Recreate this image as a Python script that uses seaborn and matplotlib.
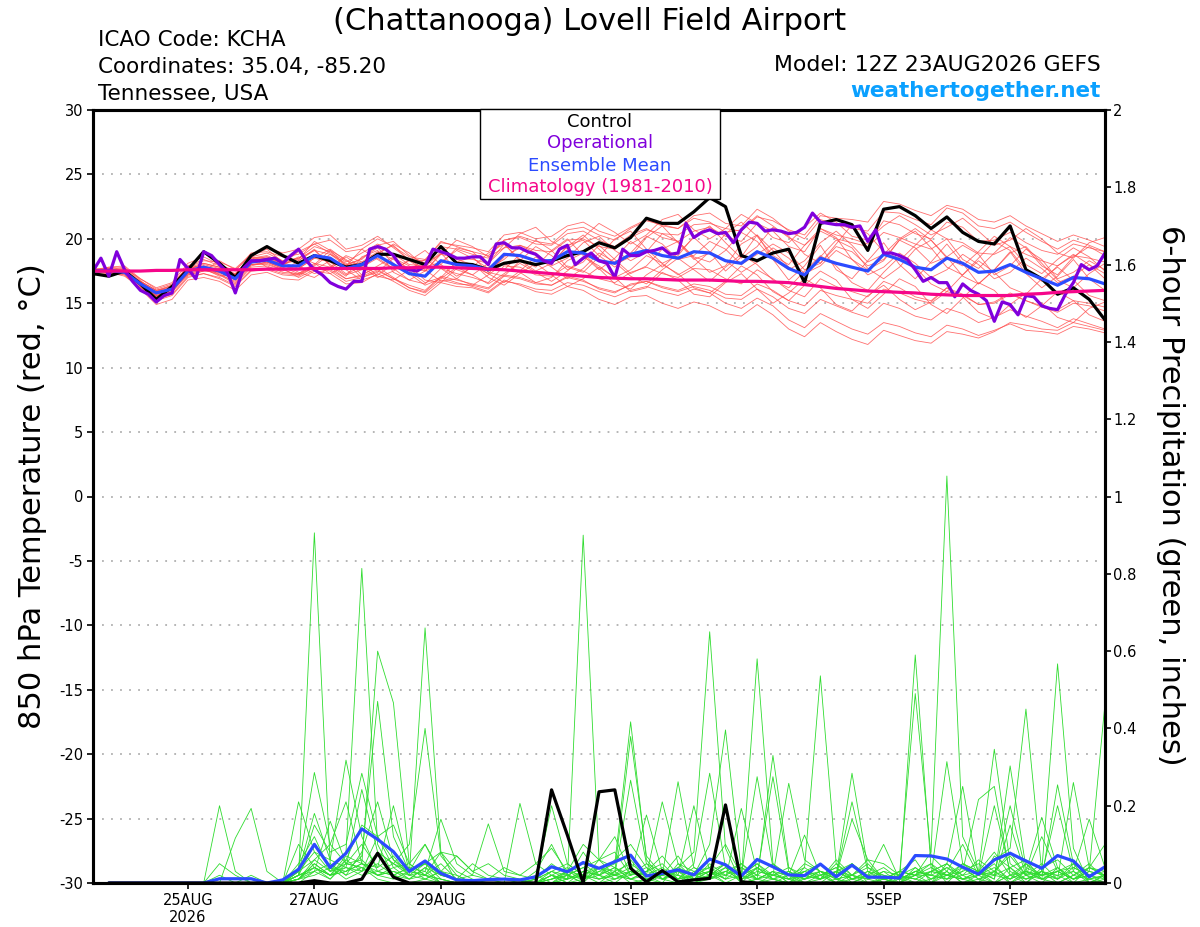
import pandas as pd
import matplotlib
matplotlib.use("Agg")
import matplotlib.pyplot as plt
import seaborn as sns
from matplotlib.patches import Rectangle

# forecast times: GEFS 12Z 23AUG2026, 6-hourly out to 384h (operational 3-hourly)
times = pd.date_range("2026-08-23 12:00", periods=65, freq="6h")
times_3h = pd.date_range("2026-08-23 12:00", periods=129, freq="3h")
precip_times = times[1:]

# 850 hPa temperature (C)
control_temp = [17.3, 17.1, 17.5, 16.5, 15.3, 16.3, 17.6, 19.0, 18.1, 17.0, 18.7, 19.4, 18.7,
                18.1, 18.7, 18.3, 17.8, 18.0, 18.8, 18.8, 18.4, 18.0, 19.4, 18.1, 18.0, 17.6,
                18.1, 18.3, 18.0, 18.3, 18.7, 19.0, 19.7, 19.3, 20.1, 21.6, 21.2, 21.2, 22.1,
                23.2, 22.5, 18.7, 18.3, 18.9, 19.2, 16.6, 21.2, 21.5, 21.1, 19.1, 22.3, 22.5,
                21.8, 20.8, 21.7, 20.5, 19.8, 19.6, 21.0, 17.6, 16.9, 15.7, 16.2, 15.3, 13.7]

mean_temp = [17.5, 17.55, 17.4, 16.5, 15.8, 16.1, 17.5, 17.8, 17.5, 16.9, 18.2, 18.35, 17.9,
             17.9, 18.7, 18.5, 17.7, 18.0, 18.7, 18.0, 17.3, 17.1, 18.3, 18.0, 17.9, 17.6,
             18.8, 18.7, 18.3, 18.3, 19.0, 18.9, 18.3, 18.1, 18.8, 19.1, 18.7, 18.5, 19.0,
             18.9, 18.3, 18.1, 19.0, 18.5, 17.7, 17.2, 18.5, 18.1, 17.8, 17.5, 18.8, 18.4,
             17.8, 17.6, 18.5, 18.1, 17.4, 17.5, 18.0, 17.4, 16.9, 16.4, 17.0, 16.9, 16.5]

oper_temp = [17.5, 18.5, 17.1, 19.0, 17.6, 16.7, 16.0, 15.7, 15.1, 15.6,
             15.8, 18.4, 17.7, 16.9, 19.0, 18.7, 18.0, 17.4, 15.8, 17.7,
             18.3, 18.3, 18.4, 18.5, 18.1, 18.7, 19.2, 18.3, 17.6, 17.2,
             16.6, 16.3, 16.1, 16.7, 16.7, 19.2, 19.4, 19.2, 18.7, 17.8,
             17.6, 17.5, 17.9, 19.2, 19.0, 18.8, 18.5, 18.5, 18.6, 18.6,
             18.0, 19.6, 19.7, 19.3, 19.3, 19.0, 18.8, 18.3, 18.1, 19.2,
             19.5, 18.0, 18.5, 18.9, 18.3, 18.1, 17.0, 19.2, 18.7, 18.7,
             19.0, 19.1, 19.3, 18.8, 18.9, 21.2, 20.1, 20.5, 20.7, 20.4,
             20.5, 19.7, 20.7, 21.3, 21.2, 20.6, 20.7, 20.6, 20.4, 20.5,
             20.9, 22.0, 21.3, 21.2, 21.1, 21.1, 20.9, 21.0, 19.8, 20.7,
             18.9, 18.9, 18.7, 18.4, 17.6, 16.7, 17.0, 16.6, 16.6, 15.5,
             16.5, 16.0, 15.7, 15.2, 13.6, 15.1, 14.9, 14.1, 15.6, 15.5,
             14.8, 14.6, 14.5, 15.7, 16.6, 18.0, 17.6, 17.9, 18.9]

clim_temp = [17.5, 17.5, 17.5, 17.5, 17.55, 17.55, 17.6, 17.6, 17.6, 17.6, 17.6, 17.65, 17.65,
             17.65, 17.7, 17.7, 17.7, 17.7, 17.7, 17.75, 17.75, 17.8, 17.8, 17.75, 17.7, 17.65,
             17.6, 17.5, 17.4, 17.3, 17.2, 17.1, 17.0, 16.95, 16.9, 16.9, 16.85, 16.8, 16.8,
             16.8, 16.75, 16.7, 16.7, 16.65, 16.6, 16.45, 16.3, 16.15, 16.05, 15.95, 15.9, 15.85,
             15.8, 15.7, 15.65, 15.6, 15.6, 15.6, 15.6, 15.7, 15.75, 15.85, 15.9, 15.95, 16.0]

red_members = [
    [17.3, 17.6, 17.8, 16.8, 15.5, 16.3, 17.9, 18.4, 17.9, 17.2, 18.6, 18.9, 18.3,
     18.5, 19.4, 19.0, 18.2, 18.9, 19.6, 18.8, 18.0, 17.9, 19.4, 19.2, 18.8, 18.5,
     19.9, 20.1, 19.6, 19.5, 20.4, 20.6, 19.9, 19.4, 20.3, 20.8, 20.1, 19.8, 20.6,
     20.9, 20.2, 19.8, 21.2, 20.6, 19.4, 19.0, 20.8, 20.3, 20.0, 19.6, 21.4, 21.1,
     20.4, 20.0, 21.3, 20.9, 19.8, 19.9, 20.5, 19.7, 19.1, 18.8, 19.6, 19.3, 19.0],
    [17.6, 17.4, 17.1, 16.2, 15.2, 15.6, 17.0, 17.3, 17.0, 16.4, 17.6, 17.7, 17.3,
     17.2, 17.8, 17.6, 16.9, 17.1, 17.6, 16.9, 16.4, 16.0, 17.1, 16.8, 16.5, 16.2,
     17.2, 17.0, 16.6, 16.4, 17.1, 16.8, 16.1, 15.8, 16.5, 16.7, 16.2, 15.9, 16.3,
     16.0, 15.4, 15.3, 16.1, 15.5, 14.6, 14.2, 15.3, 14.8, 14.3, 13.9, 15.0, 14.6,
     14.0, 13.7, 14.6, 14.2, 13.5, 13.9, 14.5, 14.0, 13.6, 13.1, 13.8, 13.4, 13.0],
    [17.4, 17.7, 17.6, 16.6, 15.9, 16.4, 17.2, 17.5, 18.3, 17.6, 18.7, 19.2, 18.2,
     18.4, 19.8, 19.1, 17.9, 18.5, 19.3, 18.1, 17.2, 17.8, 19.0, 18.4, 18.0, 17.3,
     18.6, 19.3, 18.8, 18.0, 19.5, 19.9, 18.7, 17.8, 18.9, 20.2, 19.6, 18.4, 18.7,
     19.8, 19.2, 18.0, 18.8, 19.6, 18.9, 17.6, 18.1, 19.4, 19.0, 17.9, 18.4, 19.9,
     19.3, 18.1, 18.6, 19.5, 18.8, 17.2, 17.9, 19.2, 18.4, 16.9, 17.4, 18.3, 17.6],
    [17.7, 17.3, 17.5, 16.4, 15.6, 15.8, 17.7, 17.9, 17.2, 16.7, 18.0, 18.1, 17.6,
     17.2, 18.0, 19.1, 18.4, 17.2, 17.9, 18.6, 17.5, 16.6, 17.0, 18.2, 18.6, 17.4,
     17.1, 18.3, 19.4, 18.7, 17.6, 18.2, 19.5, 18.4, 17.3, 17.9, 19.2, 19.8, 18.5,
     17.4, 17.9, 19.6, 20.3, 19.1, 17.8, 17.2, 18.6, 19.9, 19.3, 17.7, 16.9, 17.8,
     19.2, 19.9, 18.6, 17.1, 16.5, 17.6, 18.9, 19.4, 18.1, 16.8, 16.2, 17.3, 18.1],
    [17.5, 17.8, 17.7, 16.9, 16.2, 16.6, 18.1, 18.6, 18.0, 17.5, 18.9, 19.0, 18.6,
     18.8, 19.6, 19.9, 19.0, 19.2, 20.0, 19.4, 18.6, 18.4, 19.7, 19.5, 19.3, 19.0,
     20.3, 20.5, 20.0, 20.2, 21.0, 21.3, 20.6, 20.2, 20.9, 21.5, 21.0, 20.8, 21.6,
     21.3, 20.5, 20.7, 21.8, 21.0, 20.1, 19.5, 20.6, 20.0, 19.7, 19.4, 20.5, 20.1,
     19.6, 19.2, 20.0, 19.7, 18.9, 18.8, 19.4, 18.8, 18.3, 17.9, 18.7, 18.5, 18.2],
    [17.2, 17.3, 17.2, 16.1, 14.9, 15.3, 16.8, 17.0, 16.7, 16.0, 17.2, 17.4, 16.9,
     16.8, 17.5, 17.3, 16.5, 16.6, 17.3, 16.7, 16.0, 15.6, 16.6, 16.3, 16.2, 15.8,
     16.7, 16.5, 16.1, 16.0, 16.6, 16.4, 15.9, 15.5, 16.0, 16.3, 15.9, 15.6, 16.1,
     15.8, 15.0, 14.6, 15.4, 14.8, 13.7, 13.1, 14.2, 13.6, 13.0, 12.6, 13.5, 13.2,
     12.7, 12.4, 13.3, 13.0, 12.5, 12.9, 13.4, 12.9, 12.8, 12.6, 13.2, 13.0, 12.7],
    [17.6, 17.5, 17.3, 16.7, 16.0, 16.2, 17.4, 17.9, 17.6, 17.1, 18.4, 18.5, 18.0,
     18.6, 18.1, 17.3, 17.9, 19.2, 18.4, 17.6, 18.3, 19.1, 18.0, 17.1, 17.8, 18.9,
     19.6, 18.3, 17.5, 18.1, 19.4, 20.3, 19.2, 18.0, 18.6, 20.1, 21.0, 19.7, 18.4,
     18.9, 20.4, 21.3, 20.2, 18.7, 18.0, 19.5, 20.8, 20.1, 18.4, 17.6, 18.3, 19.9,
     20.6, 19.3, 17.8, 17.2, 18.5, 19.8, 19.1, 17.6, 16.7, 17.9, 18.8, 18.0, 16.9],
    [17.4, 17.5, 17.6, 16.3, 15.4, 15.9, 17.3, 17.6, 17.3, 16.6, 17.9, 18.2, 17.7,
     17.7, 18.5, 18.2, 17.3, 17.8, 18.5, 17.7, 16.8, 16.5, 17.7, 17.3, 17.0, 16.6,
     17.9, 17.8, 17.2, 17.1, 17.9, 17.5, 16.9, 16.6, 17.4, 17.8, 17.3, 17.0, 17.7,
     17.6, 16.9, 16.5, 17.6, 16.9, 16.0, 15.5, 16.9, 16.3, 15.9, 15.5, 16.7, 16.2,
     15.5, 15.2, 16.2, 15.7, 14.9, 15.1, 15.8, 15.2, 14.7, 14.3, 15.0, 14.8, 14.4],
    [17.5, 17.7, 17.5, 16.5, 15.7, 16.0, 17.6, 18.1, 17.8, 17.0, 18.5, 18.6, 18.1,
     17.4, 17.0, 17.8, 18.7, 18.2, 17.1, 16.8, 17.6, 18.4, 17.7, 16.9, 16.4, 17.2,
     18.1, 17.4, 16.6, 17.0, 18.3, 18.9, 17.7, 16.5, 16.1, 17.2, 18.0, 17.3, 16.2,
     15.8, 16.7, 17.9, 17.2, 15.9, 15.2, 16.4, 17.5, 16.8, 15.3, 14.6, 15.7, 16.9,
     16.3, 14.9, 14.2, 15.4, 16.6, 16.0, 14.7, 13.9, 14.8, 15.9, 15.2, 14.1, 13.6],
    [17.3, 17.4, 17.3, 16.4, 15.6, 16.0, 17.3, 17.6, 17.2, 16.5, 17.8, 17.9, 17.4,
     17.3, 18.1, 17.8, 16.9, 17.2, 17.8, 17.0, 16.2, 15.9, 17.0, 16.6, 16.3, 15.9,
     16.8, 16.4, 15.9, 15.7, 16.3, 16.0, 15.3, 14.9, 15.5, 15.6, 15.0, 14.6, 15.1,
     14.8, 14.2, 14.0, 14.9, 14.1, 13.0, 12.4, 13.5, 12.8, 12.2, 11.8, 12.9, 12.5,
     12.1, 11.9, 12.8, 12.6, 12.3, 12.8, 13.5, 13.3, 13.0, 12.9, 13.5, 13.2, 12.9],
    [17.6, 17.8, 17.9, 16.9, 16.1, 16.5, 17.8, 18.3, 18.2, 17.7, 18.8, 19.3, 18.9,
     19.2, 20.1, 20.3, 19.2, 19.5, 20.2, 19.3, 18.4, 18.3, 19.8, 19.4, 19.0, 18.7,
     19.9, 20.2, 19.8, 19.6, 20.7, 20.9, 20.3, 19.9, 20.8, 21.4, 21.1, 20.8, 21.8,
     22.0, 21.2, 21.0, 22.3, 21.6, 20.6, 20.0, 21.5, 21.1, 20.8, 20.6, 22.1, 22.0,
     21.5, 21.1, 22.4, 22.0, 21.0, 20.8, 21.3, 20.5, 19.8, 19.2, 19.9, 19.5, 19.0],
    [17.4, 17.5, 17.2, 16.2, 15.5, 15.9, 17.2, 17.5, 17.4, 16.8, 18.1, 18.4, 18.0,
     18.5, 19.1, 18.0, 17.2, 17.6, 18.9, 19.5, 18.3, 17.5, 18.0, 19.3, 19.0, 17.9,
     17.6, 18.8, 19.9, 19.1, 17.8, 17.4, 18.6, 20.0, 20.6, 19.2, 18.1, 18.7, 20.2,
     21.0, 19.7, 18.5, 19.4, 20.9, 20.2, 18.8, 18.1, 19.6, 21.1, 20.4, 19.0, 18.3,
     19.5, 20.7, 20.0, 18.4, 17.7, 18.9, 20.1, 19.3, 17.9, 17.2, 18.6, 19.4, 18.7],
    [17.7, 17.6, 17.4, 16.0, 15.3, 16.4, 17.9, 17.7, 17.1, 17.3, 18.6, 17.8, 17.5,
     18.3, 19.2, 17.9, 17.1, 18.6, 19.1, 17.4, 16.8, 17.5, 18.9, 17.6, 17.2, 18.1,
     19.6, 18.4, 17.8, 19.1, 20.0, 18.7, 17.6, 18.5, 19.8, 19.0, 17.8, 18.9, 20.1,
     19.0, 17.5, 18.6, 20.3, 18.4, 16.8, 17.9, 19.5, 17.6, 16.9, 18.3, 19.7, 18.0,
     16.9, 18.2, 19.6, 18.1, 16.5, 17.6, 19.0, 17.3, 16.2, 17.1, 18.4, 16.9, 16.0],
    [17.5, 17.4, 17.6, 16.6, 15.9, 16.2, 17.6, 17.7, 17.4, 17.0, 18.3, 18.2, 17.8,
     17.3, 17.9, 18.8, 18.1, 17.0, 17.4, 18.5, 17.9, 16.8, 16.6, 17.7, 18.1, 17.0,
     16.4, 17.3, 18.1, 17.2, 16.3, 16.9, 17.8, 17.0, 15.9, 16.2, 17.4, 16.8, 15.7,
     15.5, 16.6, 17.3, 16.1, 15.0, 15.8, 16.9, 16.2, 14.9, 14.4, 15.6, 16.4, 15.3,
     14.5, 15.1, 16.2, 15.5, 14.3, 13.8, 14.9, 15.8, 15.0, 13.9, 13.5, 14.6, 15.1],
    [17.3, 17.5, 17.3, 16.3, 15.3, 15.7, 17.1, 17.3, 16.9, 16.3, 17.5, 17.6, 17.2,
     17.1, 17.8, 17.5, 16.7, 17.0, 17.5, 16.9, 16.2, 15.8, 16.8, 16.5, 16.4, 16.1,
     17.1, 16.9, 16.5, 16.4, 17.0, 16.7, 16.2, 15.9, 16.4, 16.7, 16.3, 16.0, 16.5,
     16.3, 15.7, 15.6, 16.5, 16.0, 15.2, 14.8, 16.0, 15.6, 15.3, 15.0, 16.1, 15.8,
     15.3, 15.0, 15.9, 15.6, 14.9, 15.0, 15.7, 15.2, 14.8, 14.5, 15.2, 15.0, 14.7],
    [17.6, 17.7, 17.5, 16.7, 16.0, 16.3, 17.7, 18.0, 17.7, 17.2, 18.3, 18.5, 18.1,
     19.0, 19.6, 18.9, 18.0, 18.4, 19.5, 19.8, 18.7, 18.1, 18.8, 19.9, 19.4, 18.6,
     19.3, 20.4, 20.9, 19.8, 19.2, 20.1, 21.2, 20.5, 19.6, 20.3, 21.5, 21.9, 20.7,
     20.0, 20.8, 21.9, 21.2, 20.1, 19.7, 20.9, 22.0, 21.3, 20.2, 19.9, 21.0, 21.8,
     21.1, 20.3, 20.9, 21.6, 20.6, 19.5, 19.9, 20.8, 20.0, 18.9, 18.5, 19.7, 20.1],
    [17.4, 17.6, 17.4, 16.5, 15.6, 15.9, 17.4, 17.7, 17.5, 16.9, 18.0, 18.0, 17.6,
     17.9, 17.3, 17.7, 18.6, 17.8, 17.0, 17.5, 18.4, 17.6, 16.7, 16.9, 17.9, 17.3,
     16.6, 17.5, 18.6, 17.8, 16.9, 17.7, 18.9, 18.2, 17.1, 16.5, 17.6, 18.5, 17.6,
     16.7, 17.8, 18.8, 18.0, 16.8, 16.2, 17.5, 18.7, 17.9, 16.6, 16.0, 17.4, 18.6,
     17.8, 16.5, 15.9, 17.2, 18.3, 17.4, 16.2, 15.7, 16.9, 17.8, 16.8, 15.6, 15.2],
    [17.5, 17.6, 17.5, 16.6, 15.8, 16.2, 17.5, 17.8, 17.6, 17.1, 18.4, 18.6, 18.1,
     18.3, 19.1, 18.8, 17.9, 18.2, 19.0, 18.4, 17.7, 17.5, 18.8, 18.5, 18.4, 18.1,
     19.3, 19.5, 19.1, 19.0, 19.9, 20.0, 19.4, 19.2, 20.1, 20.7, 20.4, 20.3, 21.1,
     21.2, 20.8, 20.6, 21.7, 21.4, 20.7, 20.3, 21.8, 21.6, 21.5, 21.3, 22.9, 22.7,
     22.2, 21.8, 22.6, 22.3, 21.5, 21.3, 21.8, 21.0, 20.4, 19.8, 20.3, 19.9, 19.4],
    [17.2, 17.3, 17.4, 16.4, 15.7, 16.1, 17.4, 17.8, 17.4, 16.8, 18.0, 18.2, 17.7,
     17.0, 17.6, 18.3, 17.6, 16.8, 17.2, 18.0, 17.3, 16.4, 16.9, 17.8, 17.2, 16.5,
     17.3, 18.1, 17.4, 16.7, 17.5, 18.6, 17.9, 17.0, 17.6, 18.7, 18.1, 17.2, 17.9,
     19.0, 18.3, 17.4, 18.2, 19.3, 18.5, 17.3, 17.9, 19.1, 18.4, 17.2, 17.8, 18.9,
     18.1, 17.0, 17.6, 18.8, 18.0, 16.9, 17.4, 18.5, 17.7, 16.6, 17.1, 18.0, 17.3],
    [17.6, 17.5, 17.7, 16.7, 16.0, 16.4, 17.8, 18.1, 17.8, 17.3, 18.5, 18.7, 18.2,
     17.7, 18.5, 19.2, 18.3, 17.9, 18.8, 19.6, 18.9, 17.8, 18.2, 19.1, 18.5, 17.7,
     18.4, 19.5, 18.9, 17.9, 18.5, 19.7, 20.2, 19.1, 18.3, 19.0, 20.4, 19.8, 18.6,
     18.2, 19.1, 20.5, 19.8, 18.4, 17.6, 18.3, 19.7, 20.6, 19.5, 18.2, 18.8, 20.0,
     20.8, 19.9, 18.5, 17.9, 19.0, 20.2, 19.4, 18.0, 17.3, 18.4, 19.3, 18.6, 17.5],
]

# 6-hour precipitation (inches), valid at hours 6..384
control_precip = [0, 0, 0, 0, 0, 0, 0, 0, 0, 0, 0, 0, 0, 0.006, 0, 0,
                  0.01, 0.077, 0.015, 0, 0, 0, 0, 0, 0, 0, 0, 0, 0.241, 0.124, 0, 0.236,
                  0.241, 0.038, 0.003, 0.032, 0.003, 0.008, 0.012, 0.202, 0.003, 0, 0, 0, 0, 0, 0, 0,
                  0, 0, 0, 0, 0, 0, 0, 0, 0, 0, 0, 0, 0, 0, 0, 0]

mean_precip = [0, 0, 0, 0, 0, 0, 0, 0.011, 0.011, 0.011, 0.0, 0.008, 0.035, 0.10, 0.04, 0.077,
               0.14, 0.113, 0.081, 0.03, 0.057, 0.025, 0.008, 0.006, 0.009, 0.01, 0.008, 0.016, 0.042, 0.029, 0.053, 0.038,
               0.055, 0.072, 0.018, 0.025, 0.034, 0.021, 0.062, 0.047, 0.018, 0.061, 0.042, 0.021, 0.019, 0.049, 0.016, 0.046,
               0.015, 0.015, 0.013, 0.071, 0.07, 0.062, 0.041, 0.023, 0.06, 0.077, 0.057, 0.038, 0.071, 0.057, 0.016, 0.042]

green_members = [
    [0, 0, 0, 0, 0, 0, 0, 0, 0, 0, 0, 0, 0.02, 0.906, 0.05, 0.02,
     0.04, 0.01, 0, 0, 0, 0, 0, 0, 0, 0, 0, 0.01, 0.03, 0.01, 0.08, 0.02,
     0, 0.03, 0.01, 0, 0, 0, 0.02, 0.05, 0, 0.01, 0.03, 0, 0.01, 0.02, 0.04, 0,
     0, 0.01, 0, 0.02, 0.08, 1.053, 0.12, 0.03, 0, 0.02, 0.05, 0.01, 0, 0.02, 0.04, 0.1],
    [0, 0, 0, 0, 0, 0, 0, 0.02, 0, 0, 0, 0, 0.05, 0.12, 0.03, 0.08,
     0.814, 0.1, 0.02, 0, 0.01, 0, 0, 0, 0, 0, 0, 0, 0.02, 0, 0.01, 0.03,
     0.05, 0.417, 0.06, 0.01, 0.03, 0, 0.02, 0, 0, 0.04, 0.01, 0, 0, 0.02, 0, 0.05,
     0, 0.01, 0.03, 0.06, 0, 0.02, 0.01, 0, 0.07, 0.04, 0, 0.03, 0.567, 0.09, 0, 0.02],
    [0, 0, 0, 0, 0, 0, 0, 0, 0, 0, 0, 0, 0.01, 0.04, 0.02, 0.07,
     0.05, 0.60, 0.466, 0.05, 0.02, 0, 0, 0, 0, 0, 0, 0, 0.01, 0.02, 0, 0,
     0.03, 0, 0.01, 0.02, 0.04, 0.08, 0.65, 0.09, 0, 0.01, 0, 0.02, 0, 0, 0.03, 0.01,
     0, 0, 0.02, 0.01, 0, 0.05, 0.02, 0, 0.03, 0.08, 0.02, 0, 0.04, 0.01, 0.03, 0.465],
    [0, 0, 0, 0, 0, 0, 0, 0, 0, 0, 0, 0, 0, 0.03, 0.01, 0.05,
     0.1, 0.04, 0.07, 0.02, 0.66, 0.08, 0, 0, 0, 0, 0, 0.02, 0, 0.01, 0.90, 0.06,
     0.02, 0.01, 0, 0.03, 0, 0.02, 0.01, 0.04, 0, 0, 0.02, 0.01, 0, 0, 0.01, 0,
     0.02, 0, 0, 0.04, 0.01, 0.03, 0, 0.02, 0.05, 0, 0.03, 0.17, 0.04, 0, 0.01, 0.02],
    [0, 0, 0, 0, 0, 0, 0, 0, 0, 0, 0, 0, 0.02, 0.1, 0.04, 0.03,
     0.07, 0.47, 0.12, 0.03, 0.05, 0.01, 0, 0, 0, 0, 0, 0, 0.03, 0.05, 0.02, 0,
     0.01, 0.02, 0.05, 0.01, 0, 0.03, 0.04, 0.1, 0.02, 0, 0.01, 0, 0.03, 0.05, 0.01, 0.02,
     0, 0, 0.01, 0.02, 0, 0.03, 0.1, 0.02, 0, 0.04, 0.06, 0.01, 0.03, 0.05, 0, 0.01],
    [0, 0, 0, 0, 0, 0, 0, 0, 0, 0, 0, 0, 0.01, 0.05, 0.02, 0.04,
     0.03, 0.08, 0.05, 0.1, 0.40, 0.07, 0.02, 0, 0, 0, 0, 0, 0, 0.02, 0.04, 0.01,
     0.02, 0.06, 0.01, 0.03, 0.02, 0.01, 0.05, 0.02, 0.01, 0.58, 0.05, 0.02, 0.124, 0.02, 0, 0.01,
     0.03, 0, 0.02, 0, 0.01, 0.04, 0.02, 0.06, 0.03, 0, 0.02, 0.05, 0.01, 0.03, 0, 0.02],
    [0, 0, 0, 0, 0, 0, 0, 0, 0, 0, 0, 0, 0.03, 0.08, 0.06, 0.318,
     0.12, 0.03, 0.02, 0.01, 0.04, 0, 0, 0, 0, 0, 0, 0, 0, 0.03, 0.01, 0.06,
     0.04, 0.01, 0.03, 0.07, 0.02, 0, 0.01, 0.03, 0.05, 0.02, 0.01, 0, 0.04, 0.536, 0.05, 0.01,
     0.02, 0.01, 0, 0.03, 0.05, 0, 0.04, 0.01, 0.03, 0.07, 0.02, 0.12, 0.03, 0.01, 0.02, 0.04],
    [0, 0, 0, 0, 0, 0, 0, 0, 0, 0, 0, 0, 0.04, 0.286, 0.1, 0.05,
     0.06, 0.02, 0.04, 0.01, 0.02, 0.01, 0, 0, 0, 0, 0, 0.01, 0.05, 0.02, 0, 0.04,
     0.01, 0.03, 0.02, 0, 0.05, 0.01, 0.03, 0, 0.02, 0.04, 0.01, 0.03, 0, 0.01, 0.02, 0.05,
     0.01, 0.03, 0, 0.59, 0.04, 0.02, 0.01, 0.03, 0.08, 0.02, 0, 0.04, 0.06, 0.02, 0.01, 0],
    [0, 0, 0, 0, 0, 0, 0, 0, 0, 0, 0, 0, 0.02, 0.15, 0.08, 0.1,
     0.284, 0.12, 0.06, 0.02, 0.03, 0, 0, 0, 0, 0, 0, 0, 0.02, 0, 0.03, 0.02,
     0.06, 0.1, 0.04, 0.01, 0.03, 0.02, 0.1, 0.396, 0.03, 0.01, 0.02, 0.04, 0.01, 0.03, 0, 0.02,
     0.01, 0, 0.02, 0.49, 0.07, 0.03, 0, 0.01, 0.02, 0.04, 0.01, 0.03, 0, 0.02, 0.05, 0.01],
    [0, 0, 0, 0, 0, 0, 0, 0.05, 0.02, 0, 0, 0, 0.01, 0.06, 0.03, 0.04,
     0.242, 0.08, 0.05, 0.03, 0.1, 0.02, 0.01, 0, 0, 0, 0, 0, 0.01, 0.03, 0.02, 0.01,
     0.02, 0.04, 0, 0.02, 0.07, 0.01, 0.03, 0.02, 0.05, 0.01, 0.03, 0, 0.02, 0.01, 0.06, 0.02,
     0.06, 0.01, 0, 0.02, 0.03, 0.05, 0.01, 0.02, 0.06, 0.09, 0.45, 0.03, 0.01, 0.04, 0.02, 0],
    [0, 0, 0, 0, 0, 0, 0, 0.2, 0.03, 0, 0, 0, 0.02, 0.04, 0.01, 0.06,
     0.03, 0.12, 0.04, 0.05, 0.02, 0.08, 0.03, 0.01, 0, 0, 0, 0, 0, 0.01, 0.02, 0.04,
     0.03, 0.379, 0.07, 0.02, 0.01, 0.04, 0.02, 0.05, 0.01, 0.03, 0.02, 0.01, 0.05, 0.03, 0.01, 0,
     0.02, 0.1, 0.01, 0, 0.03, 0.02, 0.04, 0.01, 0, 0.02, 0.01, 0.03, 0.02, 0, 0.04, 0.03],
    [0, 0, 0, 0, 0, 0, 0, 0, 0.116, 0.193, 0.03, 0, 0.01, 0.05, 0.02, 0.03,
     0.05, 0.02, 0.03, 0.01, 0.04, 0.02, 0.01, 0.02, 0.01, 0, 0, 0, 0.01, 0.02, 0.01, 0.03,
     0.02, 0.266, 0.05, 0.03, 0.01, 0.02, 0.04, 0.01, 0.193, 0.03, 0.02, 0.01, 0.03, 0.02, 0.04, 0.01,
     0.03, 0.02, 0.01, 0.03, 0.02, 0.01, 0.05, 0.03, 0.02, 0.01, 0.03, 0.02, 0.01, 0.05, 0.03, 0.02],
    [0, 0, 0, 0, 0, 0, 0, 0, 0, 0.02, 0, 0, 0.21, 0.08, 0.03, 0.05,
     0.04, 0.02, 0.01, 0.03, 0.02, 0.01, 0, 0, 0, 0, 0.206, 0.05, 0.02, 0.04, 0.01, 0.02,
     0.04, 0.02, 0.03, 0.05, 0.01, 0.02, 0.03, 0.01, 0.04, 0.02, 0.05, 0.01, 0.02, 0.03, 0.01, 0.02,
     0.04, 0.01, 0.03, 0.02, 0.05, 0.02, 0.01, 0.03, 0.346, 0.05, 0.02, 0.01, 0.03, 0.04, 0.02, 0.01],
    [0, 0, 0, 0, 0, 0, 0, 0, 0, 0, 0, 0, 0.03, 0.06, 0.1, 0.21,
     0.05, 0.03, 0.02, 0.04, 0.01, 0.03, 0.02, 0, 0, 0, 0, 0.01, 0.2, 0.05, 0.02, 0.01,
     0.03, 0.05, 0.02, 0.01, 0.04, 0.02, 0.01, 0.03, 0.02, 0.05, 0.01, 0.02, 0.03, 0.01, 0.05, 0.02,
     0.01, 0.03, 0.02, 0.04, 0.01, 0.02, 0.05, 0.03, 0.01, 0.303, 0.04, 0.02, 0.03, 0.01, 0.02, 0.04],
    [0, 0, 0, 0, 0, 0, 0, 0, 0, 0, 0, 0, 0.01, 0.03, 0.05, 0.02,
     0.08, 0.21, 0.06, 0.03, 0.02, 0.05, 0.01, 0, 0, 0, 0, 0, 0.01, 0.03, 0.05, 0.02,
     0.01, 0.03, 0.02, 0.04, 0.01, 0.05, 0.284, 0.04, 0.02, 0.01, 0.03, 0.02, 0.04, 0.01, 0.03, 0.02,
     0.05, 0.01, 0.03, 0.02, 0.02, 0.314, 0.05, 0.02, 0.2, 0.03, 0.01, 0.02, 0.04, 0.01, 0.03, 0.02],
    [0, 0, 0, 0, 0, 0, 0, 0, 0, 0, 0, 0, 0.02, 0.04, 0.02, 0.03,
     0.05, 0.04, 0.2, 0.03, 0.05, 0.02, 0.01, 0, 0, 0, 0, 0, 0.02, 0.01, 0.03, 0.04,
     0.02, 0.01, 0.03, 0.02, 0.262, 0.04, 0.02, 0.03, 0.01, 0.04, 0.02, 0.03, 0.01, 0.02, 0.03, 0.01,
     0.02, 0.04, 0.01, 0.03, 0.02, 0.01, 0.03, 0.05, 0.02, 0.2, 0.03, 0.01, 0.254, 0.05, 0.02, 0.03],
    [0, 0, 0, 0, 0, 0, 0, 0, 0, 0, 0, 0, 0.01, 0.02, 0.04, 0.01,
     0.03, 0.05, 0.02, 0.04, 0.03, 0.165, 0.05, 0.02, 0.153, 0.03, 0.02, 0.01, 0.03, 0.02, 0.01, 0.04,
     0.02, 0.03, 0.01, 0.02, 0.03, 0.01, 0.02, 0.04, 0.02, 0.275, 0.04, 0.02, 0.01, 0.03, 0.02, 0.284,
     0.04, 0.02, 0.01, 0.03, 0.02, 0.04, 0.01, 0.02, 0.03, 0.01, 0.05, 0.02, 0.03, 0.01, 0.04, 0.02],
    [0, 0, 0, 0, 0, 0, 0, 0, 0, 0, 0, 0, 0.03, 0.18, 0.06, 0.04,
     0.02, 0.03, 0.05, 0.02, 0.01, 0.03, 0.07, 0.03, 0.05, 0.02, 0.01, 0, 0.02, 0.01, 0.03, 0.02,
     0.04, 0.01, 0.02, 0.21, 0.05, 0.03, 0.01, 0.02, 0.04, 0.01, 0.33, 0.04, 0.02, 0.01, 0.03, 0.05,
     0.02, 0.01, 0.03, 0.02, 0.04, 0.01, 0.02, 0.03, 0.01, 0.15, 0.02, 0.03, 0.01, 0.26, 0.04, 0.02],
    [0, 0, 0, 0, 0, 0, 0, 0, 0, 0, 0, 0, 0.1, 0.04, 0.02, 0.06,
     0.15, 0.12, 0.15, 0.05, 0.1, 0.03, 0.01, 0.05, 0.02, 0.01, 0, 0.03, 0.1, 0.02, 0.04, 0.06,
     0.12, 0.02, 0.04, 0.01, 0.02, 0.2, 0.03, 0.01, 0.02, 0.05, 0.02, 0.258, 0.06, 0.03, 0.02, 0.21,
     0.03, 0.01, 0.02, 0.01, 0.03, 0.05, 0.25, 0.02, 0.04, 0.01, 0.03, 0.02, 0.2, 0.03, 0.01, 0.02],
    [0, 0, 0, 0, 0, 0, 0, 0, 0, 0, 0, 0, 0.02, 0.03, 0.16, 0.05,
     0.04, 0.02, 0.03, 0.02, 0.05, 0.08, 0.07, 0.03, 0.01, 0.04, 0.02, 0.05, 0.09, 0.03, 0.1, 0.06,
     0.08, 0.02, 0.176, 0.03, 0.01, 0.02, 0.03, 0.05, 0.01, 0.02, 0.275, 0.03, 0.01, 0.05, 0.02, 0.165,
     0.06, 0.05, 0.02, 0.01, 0.03, 0.02, 0.03, 0.216, 0.25, 0.02, 0.03, 0.01, 0.02, 0.03, 0.165, 0.04],
]

tick_dates = pd.to_datetime(["2026-08-25", "2026-08-27", "2026-08-29", "2026-09-01",
                             "2026-09-03", "2026-09-05", "2026-09-07"])
tick_labels = ["25AUG\n2026", "27AUG", "29AUG", "1SEP", "3SEP", "5SEP", "7SEP"]
temp_ticks = list(range(-30, 31, 5))
precip_ticks = [0, 0.2, 0.4, 0.6, 0.8, 1, 1.2, 1.4, 1.6, 1.8, 2]

RED = "#ff4a4a"
GREEN = "#2fdc2f"
PURPLE = "#8000dc"
BLUE = "#2b4bff"
PINK = "#f5068a"

sns.set_style("white")
plt.rcParams["font.family"] = ["DejaVu Sans"]
plt.rcParams.update({"text.color": "black", "axes.labelcolor": "black",
                     "xtick.color": "black", "ytick.color": "black"})

W, H = 1200, 927
fig = plt.figure(figsize=(W / 100, H / 100), dpi=100)
ax = fig.add_axes([93 / W, 44 / H, 1012 / W, 773 / H])
ax2 = ax.twinx()


def fx(x):
    return x / W


def fy(y):
    return 1 - y / H


red_df = pd.DataFrame(
    [(m, t, v) for m, vals in enumerate(red_members) for t, v in zip(times, vals, strict=True)],
    columns=["member", "time", "temp"])
green_df = pd.DataFrame(
    [(m, t, v) for m, vals in enumerate(green_members) for t, v in zip(precip_times, vals, strict=True)],
    columns=["member", "time", "precip"])

for v in range(-25, 30, 5):
    ax.axhline(v, color="#b0b0b0", lw=1.3, ls=(0, (1, 4)), zorder=0)

sns.lineplot(data=red_df, x="time", y="temp", units="member", estimator=None,
             color=RED, lw=0.6, alpha=0.8, ax=ax, legend=False)
sns.lineplot(x=times, y=control_temp, color="black", lw=2.3, ax=ax)
sns.lineplot(x=times, y=mean_temp, color=BLUE, lw=2.3, ax=ax)
sns.lineplot(x=times_3h, y=oper_temp, color=PURPLE, lw=2.3, ax=ax)
sns.lineplot(x=times, y=clim_temp, color=PINK, lw=2.3, ax=ax)

sns.lineplot(data=green_df, x="time", y="precip", units="member", estimator=None,
             color=GREEN, lw=0.6, ax=ax2, legend=False)
sns.lineplot(x=precip_times, y=mean_precip, color=BLUE, lw=2.3, ax=ax2)
sns.lineplot(x=precip_times, y=control_precip, color="black", lw=2.3, ax=ax2)

ax.set_ylim(-30, 30)
ax2.set_ylim(0, 2)
ax.set_xlim(times[0], times[-1])
ax.set_yticks(temp_ticks)
ax.set_yticklabels([str(v) for v in temp_ticks])
ax2.set_yticks(precip_ticks)
ax2.set_yticklabels([f"{v:g}" for v in precip_ticks])
ax.set_xticks(tick_dates)
ax.set_xticklabels(tick_labels)
for a in (ax, ax2):
    a.set_xlabel("")
    a.set_ylabel("")
    for s in a.spines.values():
        s.set_linewidth(2.2)
        s.set_color("black")
ax.tick_params(axis="y", direction="out", length=4, width=1.2, pad=3, labelsize=10.5,
               left=True, colors="black")
ax.tick_params(axis="x", direction="out", length=4, width=1.2, pad=3, labelsize=10.5,
               bottom=True, colors="black")
ax2.tick_params(axis="y", direction="out", length=4, width=1.2, pad=2, labelsize=10.5,
                right=True, colors="black")

# axis titles
fig.text(fx(33), fy(496), "850 hPa Temperature (red, °C)", rotation=90,
         ha="center", va="center", fontsize=22)
fig.text(fx(1170), fy(495), "6-hour Precipitation (green, inches)", rotation=270,
         ha="center", va="center", fontsize=22)

# header
fig.text(fx(590), fy(30), "(Chattanooga) Lovell Field Airport", ha="center", va="baseline", fontsize=22)
fig.text(fx(98), fy(46), "ICAO Code: KCHA", ha="left", va="baseline", fontsize=15.5)
fig.text(fx(98), fy(73), "Coordinates: 35.04, -85.20", ha="left", va="baseline", fontsize=15.5)
fig.text(fx(98), fy(100), "Tennessee, USA", ha="left", va="baseline", fontsize=15.5)
fig.text(fx(1101), fy(71), "Model: 12Z 23AUG2026 GEFS", ha="right", va="baseline", fontsize=15.8)
fig.text(fx(1101), fy(97), "weathertogether.net", ha="right", va="baseline", fontsize=15.5,
         fontweight="bold", color="#0aa0ff")

# legend box
fig.add_artist(Rectangle((fx(480), fy(199)), 240 / W, 90 / H, transform=fig.transFigure,
                         facecolor="white", edgecolor="black", lw=1.0, zorder=10))
legend_items = [("Control", "black", 126.7), ("Operational", PURPLE, 148),
                ("Ensemble Mean", BLUE, 170.7), ("Climatology (1981-2010)", PINK, 191.7)]
for txt, col, yb in legend_items:
    fig.text(fx(600), fy(yb), txt, ha="center", va="baseline", color=col, fontsize=13, zorder=11)

fig.savefig("out.png", dpi=100)
